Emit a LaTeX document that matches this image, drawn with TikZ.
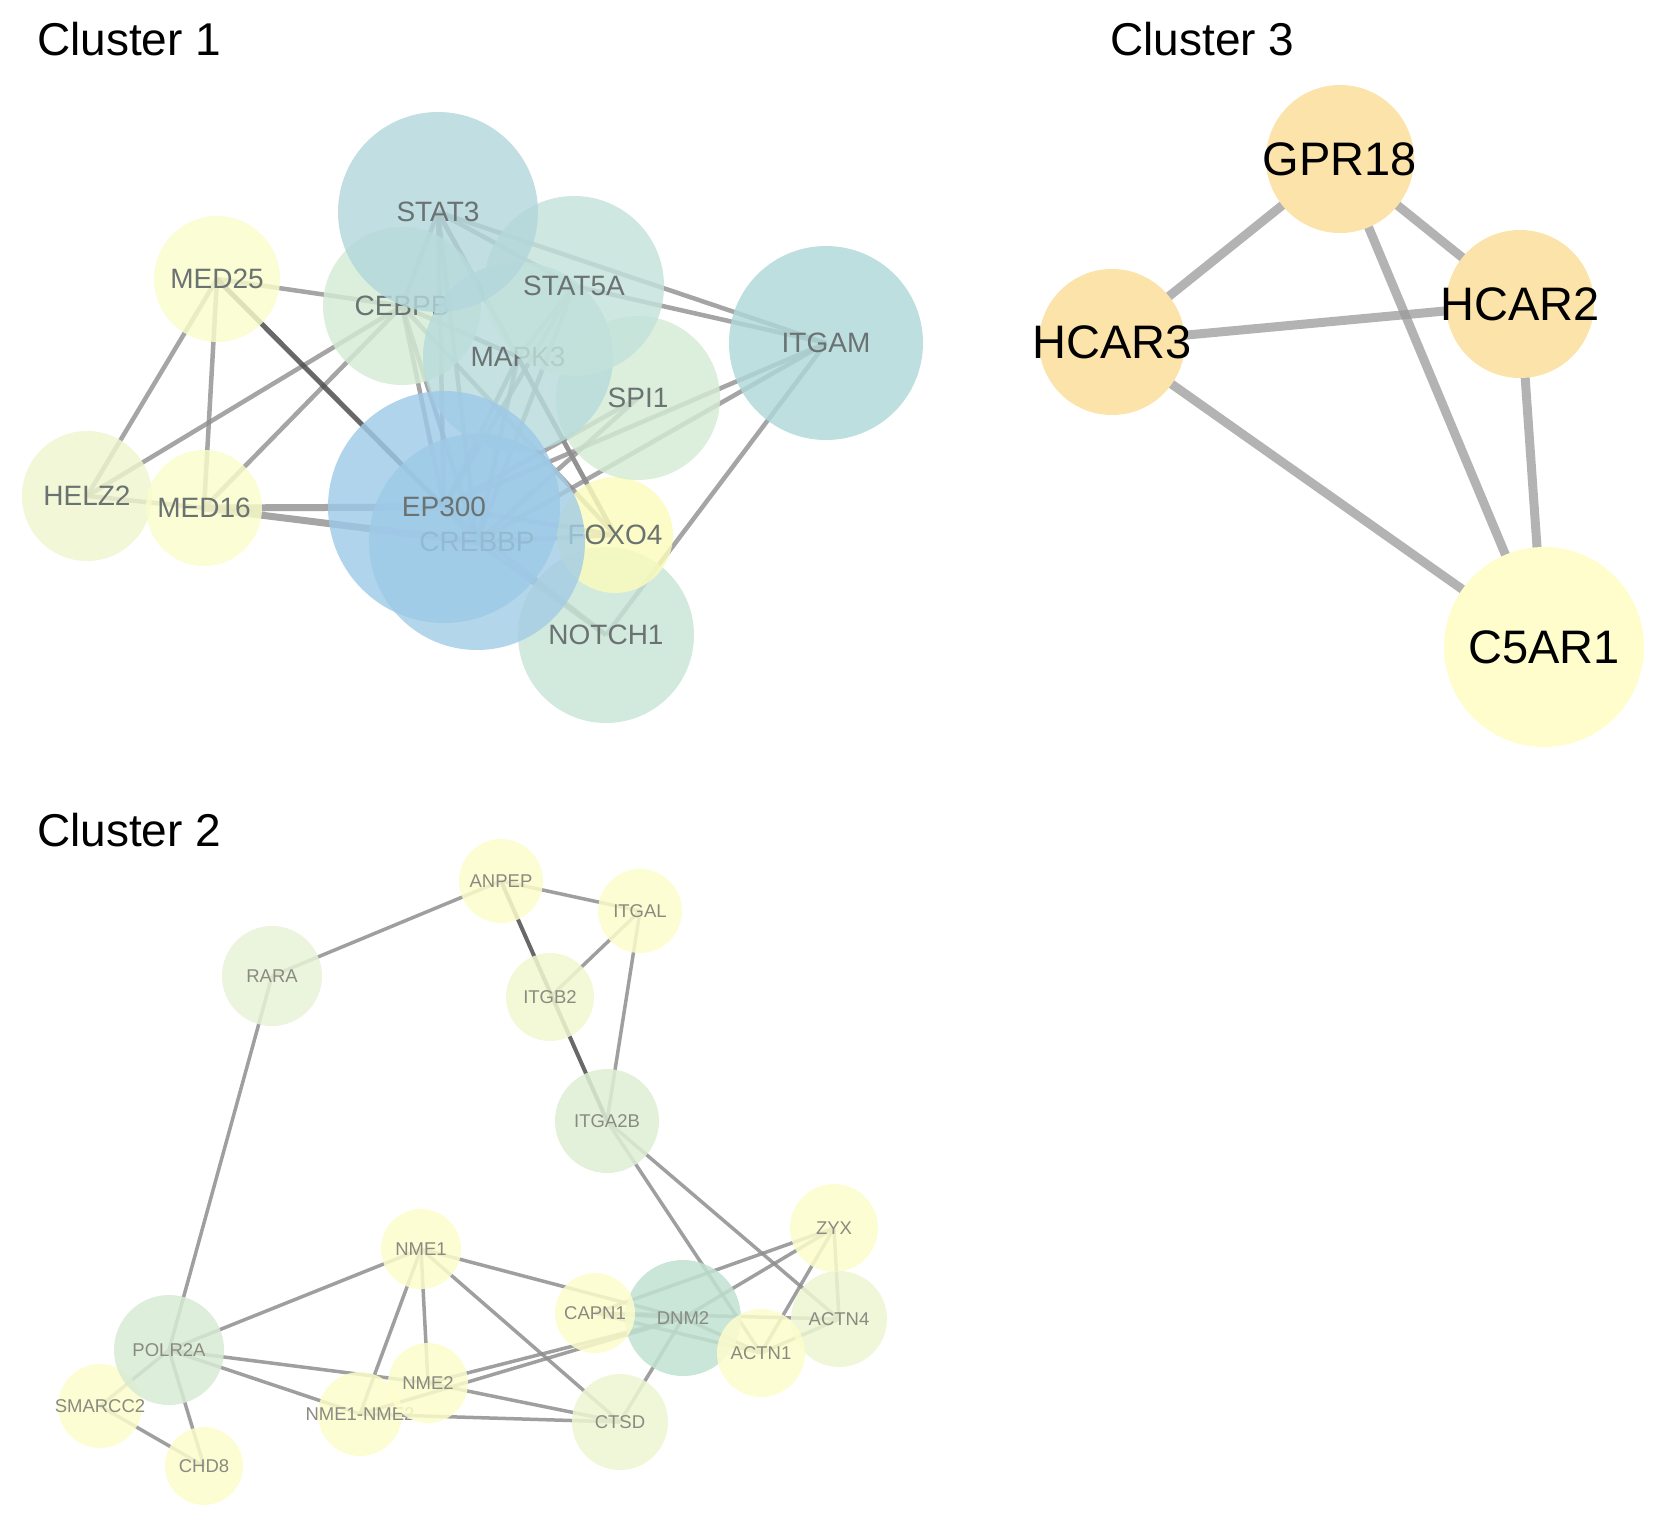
\documentclass[tikz,border=0pt]{standalone}
\usepackage{fontspec}
\setmainfont{Liberation Sans}
\usetikzlibrary{backgrounds}

\definecolor{txtone}{HTML}{6B7272}
\definecolor{txttwo}{HTML}{8A8A82}
\definecolor{linkgray}{HTML}{8E8E8E}
\definecolor{linkdark}{HTML}{4E4E4E}
\definecolor{linklight}{HTML}{9A9A9A}
\definecolor{cstat}{HTML}{B3D7DC}
\definecolor{citgam}{HTML}{B0D8D9}
\definecolor{cstatfive}{HTML}{C3E2DB}
\definecolor{cmapk}{HTML}{B8DBDC}
\definecolor{ccebp}{HTML}{D3EBD4}
\definecolor{cnotch}{HTML}{C8E5D7}
\definecolor{cep}{HTML}{9DCAE8}
\definecolor{ccreb}{HTML}{A3CDE5}
\definecolor{cmed}{HTML}{FAFCCA}
\definecolor{chelz}{HTML}{EFF6CE}
\definecolor{cfoxo}{HTML}{FBFBBC}
\definecolor{corange}{HTML}{FBE3A9}
\definecolor{cpale}{HTML}{FEFDCB}
\definecolor{cyel}{HTML}{FDFDCC}
\definecolor{citgb}{HTML}{F1F7CF}
\definecolor{crara}{HTML}{E7F2D6}
\definecolor{citga}{HTML}{DEEFD4}
\definecolor{cpolr}{HTML}{D7EBD5}
\definecolor{cdnm}{HTML}{C0E2D1}
\definecolor{cactn}{HTML}{ECF6D1}

\newcommand{\gn}[1]{\makebox[0pt]{#1}}

\tikzset{
  gene/.style={circle, inner sep=0pt, fill opacity=0.82, text opacity=1},
  geneone/.style={gene, text=txtone, font=\fontsize{28}{28}\selectfont},
  genetwo/.style={gene, fill opacity=0.85, text=txttwo, font=\fontsize{18.5}{18.5}\selectfont},
  genethree/.style={gene, fill opacity=1, text=black, font=\fontsize{47}{47}\selectfont},
  clustertitle/.style={anchor=west, inner sep=0pt, font=\fontsize{46}{46}\selectfont},
  linkone/.style={draw=linkgray, line width=4.5pt, draw opacity=0.8},
  linkstrong/.style={draw=linkdark, line width=5pt, draw opacity=0.85},
  linktwo/.style={draw=linkgray, line width=3.5pt, draw opacity=0.85},
  linkthree/.style={draw=linklight, line width=9pt, draw opacity=0.75}
}

\begin{document}
\begin{tikzpicture}[x=1pt, y=-1pt]
	\useasboundingbox (0,0) rectangle (1654,1520);

	\node[clustertitle] (titleone) at (37,39) {Cluster 1};
	\node[clustertitle] (titlethree) at (1110,39) {Cluster 3};
	\node[clustertitle] (titletwo) at (37,830) {Cluster 2};

	\node[geneone, fill=chelz, minimum size=130pt] (helz2) at (87,496) {\gn{HELZ2}};
	\node[geneone, fill=cmed, minimum size=116pt] (med16) at (204,508) {\gn{MED16}};
	\node[geneone, fill=cmed, minimum size=126pt] (med25) at (217,279) {\gn{MED25}};
	\node[geneone, fill=ccebp, minimum size=158pt] (cebpb) at (402,306) {\gn{CEBPB}};
	\node[geneone, fill=citgam, minimum size=194pt] (itgam) at (826,343) {\gn{ITGAM}};
	\node[geneone, fill=cnotch, minimum size=176pt] (notch1) at (606,635) {\gn{NOTCH1}};
	\node[geneone, fill=cfoxo, minimum size=116pt] (foxo4) at (615,535) {\gn{FOXO4}};
	\node[geneone, fill=ccebp, minimum size=164pt] (spi1) at (638,398) {\gn{SPI1}};
	\node[geneone, fill=cmapk, minimum size=190pt] (mapk3) at (518,357) {\gn{MAPK3}};
	\node[geneone, fill=cstatfive, minimum size=180pt] (stat5a) at (574,286) {\gn{STAT5A}};
	\node[geneone, fill=cstat, minimum size=200pt] (stat3) at (438,212) {\gn{STAT3}};
	\node[geneone, fill=ccreb, minimum size=216pt] (crebbp) at (477,542) {\gn{CREBBP}};
	\node[geneone, fill=cep, minimum size=232pt] (ep300) at (444,507) {\gn{EP300}};

	\node[genethree, fill=corange, minimum size=148pt] (gpr18) at (1340,159) {\gn{GPR18}};
	\node[genethree, fill=corange, minimum size=148pt] (hcar2) at (1520,304) {\gn{HCAR2}};
	\node[genethree, fill=corange, minimum size=146pt] (hcar3) at (1112,342) {\gn{HCAR3}};
	\node[genethree, fill=cpale, minimum size=200pt] (c5ar1) at (1544,647) {\gn{C5AR1}};

	\node[genetwo, fill=cyel, minimum size=84pt] (anpep) at (501,881) {\gn{ANPEP}};
	\node[genetwo, fill=cyel, minimum size=84pt] (itgal) at (640,911) {\gn{ITGAL}};
	\node[genetwo, fill=crara, minimum size=100pt] (rara) at (272,976) {\gn{RARA}};
	\node[genetwo, fill=citgb, minimum size=88pt] (itgb2) at (550,997) {\gn{ITGB2}};
	\node[genetwo, fill=citga, minimum size=104pt] (itga2b) at (607,1121) {\gn{ITGA2B}};
	\node[genetwo, fill=cyel, minimum size=88pt] (zyx) at (834,1228) {\gn{ZYX}};
	\node[genetwo, fill=cyel, minimum size=80pt] (nme1) at (421,1249) {\gn{NME1}};
	\node[genetwo, fill=cdnm, minimum size=116pt] (dnm2) at (683,1318) {\gn{DNM2}};
	\node[genetwo, fill=cactn, minimum size=96pt] (actn4) at (839,1319) {\gn{ACTN4}};
	\node[genetwo, fill=cyel, minimum size=80pt] (capn1) at (595,1313) {\gn{CAPN1}};
	\node[genetwo, fill=cyel, minimum size=88pt] (actn1) at (761,1353) {\gn{ACTN1}};
	\node[genetwo, fill=cyel, minimum size=84pt] (smarcc2) at (100,1406) {\gn{SMARCC2}};
	\node[genetwo, fill=cpolr, minimum size=110pt] (polr2a) at (169,1350) {\gn{POLR2A}};
	\node[genetwo, fill=cyel, minimum size=84pt] (nmefuse) at (360,1414) {\gn{NME1-NME2}};
	\node[genetwo, fill=cyel, minimum size=80pt] (nme2) at (428,1383) {\gn{NME2}};
	\node[genetwo, fill=cactn, minimum size=96pt] (ctsd) at (620,1422) {\gn{CTSD}};
	\node[genetwo, fill=cyel, minimum size=78pt] (chd8) at (204,1466) {\gn{CHD8}};

	\begin{scope}[on background layer]
		\foreach \a/\b in {med25/cebpb, med25/helz2, med25/med16, helz2/cebpb, helz2/med16,
			med16/cebpb, stat3/itgam, stat5a/itgam, itgam/ep300, itgam/crebbp, itgam/notch1,
			stat3/stat5a, stat3/mapk3, stat3/cebpb, stat3/ep300, stat3/crebbp, stat3/foxo4,
			stat5a/mapk3, stat5a/ep300, stat5a/crebbp, cebpb/mapk3, cebpb/ep300,
			cebpb/crebbp, cebpb/foxo4, mapk3/ep300, mapk3/crebbp, mapk3/foxo4, spi1/ep300,
			spi1/crebbp, ep300/crebbp, ep300/foxo4, crebbp/foxo4, ep300/notch1, crebbp/notch1}
			\draw[linkone] (\a.center) -- (\b.center);
		\draw[linkone, line width=7pt] (med16.center) -- (ep300.center);
		\draw[linkone, line width=7pt] (med16.center) -- (crebbp.center);
		\draw[linkstrong] (med25.center) -- (ep300.center);

		\foreach \a/\b in {gpr18/hcar3, gpr18/hcar2, gpr18/c5ar1, hcar3/hcar2, hcar3/c5ar1, hcar2/c5ar1}
			\draw[linkthree] (\a.center) -- (\b.center);

		\foreach \a/\b in {rara/anpep, rara/polr2a, anpep/itgal, itgal/itgb2, itgal/itga2b,
			itga2b/actn1, itga2b/actn4, zyx/capn1, zyx/dnm2, zyx/actn1, zyx/actn4,
			nme1/polr2a, nme1/dnm2, nme1/ctsd, nme1/nme2, nme1/nmefuse, nme2/dnm2, nmefuse/dnm2,
			nme2/ctsd, nmefuse/ctsd, polr2a/nme2, polr2a/nmefuse, polr2a/chd8, polr2a/smarcc2,
			smarcc2/chd8, capn1/actn1, capn1/actn4, capn1/dnm2, dnm2/ctsd, dnm2/actn1, actn1/actn4}
			\draw[linktwo] (\a.center) -- (\b.center);
		\draw[linkstrong, line width=4pt] (anpep.center) -- (itga2b.center);
	\end{scope}
\end{tikzpicture}
\end{document}
